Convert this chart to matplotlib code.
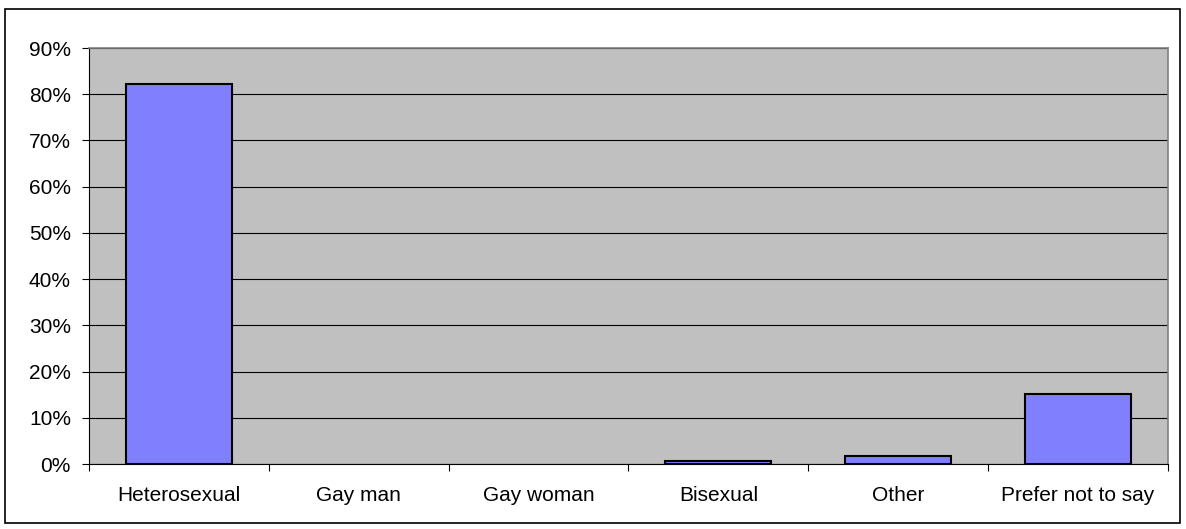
import matplotlib
matplotlib.use("Agg")
import matplotlib.pyplot as plt
from matplotlib.patches import Rectangle
from matplotlib.ticker import FuncFormatter, MultipleLocator

categories = ["Heterosexual", "Gay man", "Gay woman", "Bisexual", "Other", "Prefer not to say"]
values = [82.2, 0.0, 0.0, 0.6, 1.7, 15.2]

plt.rcParams['font.family'] = ['Liberation Sans', 'DejaVu Sans']

W, H = 1186, 529
fig = plt.figure(figsize=(W / 100, H / 100), dpi=100)
fig.patch.set_facecolor("white")
fig.add_artist(Rectangle((5 / W, 1 - 523 / H), 1175 / W, 514 / H, transform=fig.transFigure,
                         fill=False, edgecolor="black", linewidth=1.2))

left, right, top, bottom = 89, 1168, 48, 464
ax = fig.add_axes([left / W, 1 - bottom / H, (right - left) / W, (bottom - top) / H])
ax.set_facecolor("#C0C0C0")

x = list(range(len(categories)))
lws = [1.5 if v > 0 else 0 for v in values]
ax.bar(x, values, width=0.59, color="#8080FF", edgecolor="black", linewidth=lws, zorder=3)

ax.set_xlim(-0.5, len(categories) - 0.5)
ax.set_ylim(0, 90)
ax.yaxis.set_major_locator(MultipleLocator(10))
ax.yaxis.set_major_formatter(FuncFormatter(lambda v, p: f"{v:.0f}%"))
ax.grid(axis="y", color="black", linewidth=0.8, zorder=1)
ax.set_axisbelow(True)

ax.set_xticks([i - 0.5 for i in range(len(categories) + 1)])
ax.set_xticklabels([])
ax.set_xticks(x, minor=True)
ax.set_xticklabels(categories, minor=True)
ax.tick_params(axis="x", which="major", direction="out", length=5, width=0.8, color="black")
ax.tick_params(axis="x", which="minor", length=0, pad=16, labelsize=15)
ax.tick_params(axis="y", direction="out", length=5, width=0.8, labelsize=15, pad=8)

for s in ["top", "right"]:
    ax.spines[s].set_color("#808080")
    ax.spines[s].set_linewidth(1.2)
for s in ["left", "bottom"]:
    ax.spines[s].set_color("black")
    ax.spines[s].set_linewidth(0.8)

fig.savefig("out.png", dpi=100)
